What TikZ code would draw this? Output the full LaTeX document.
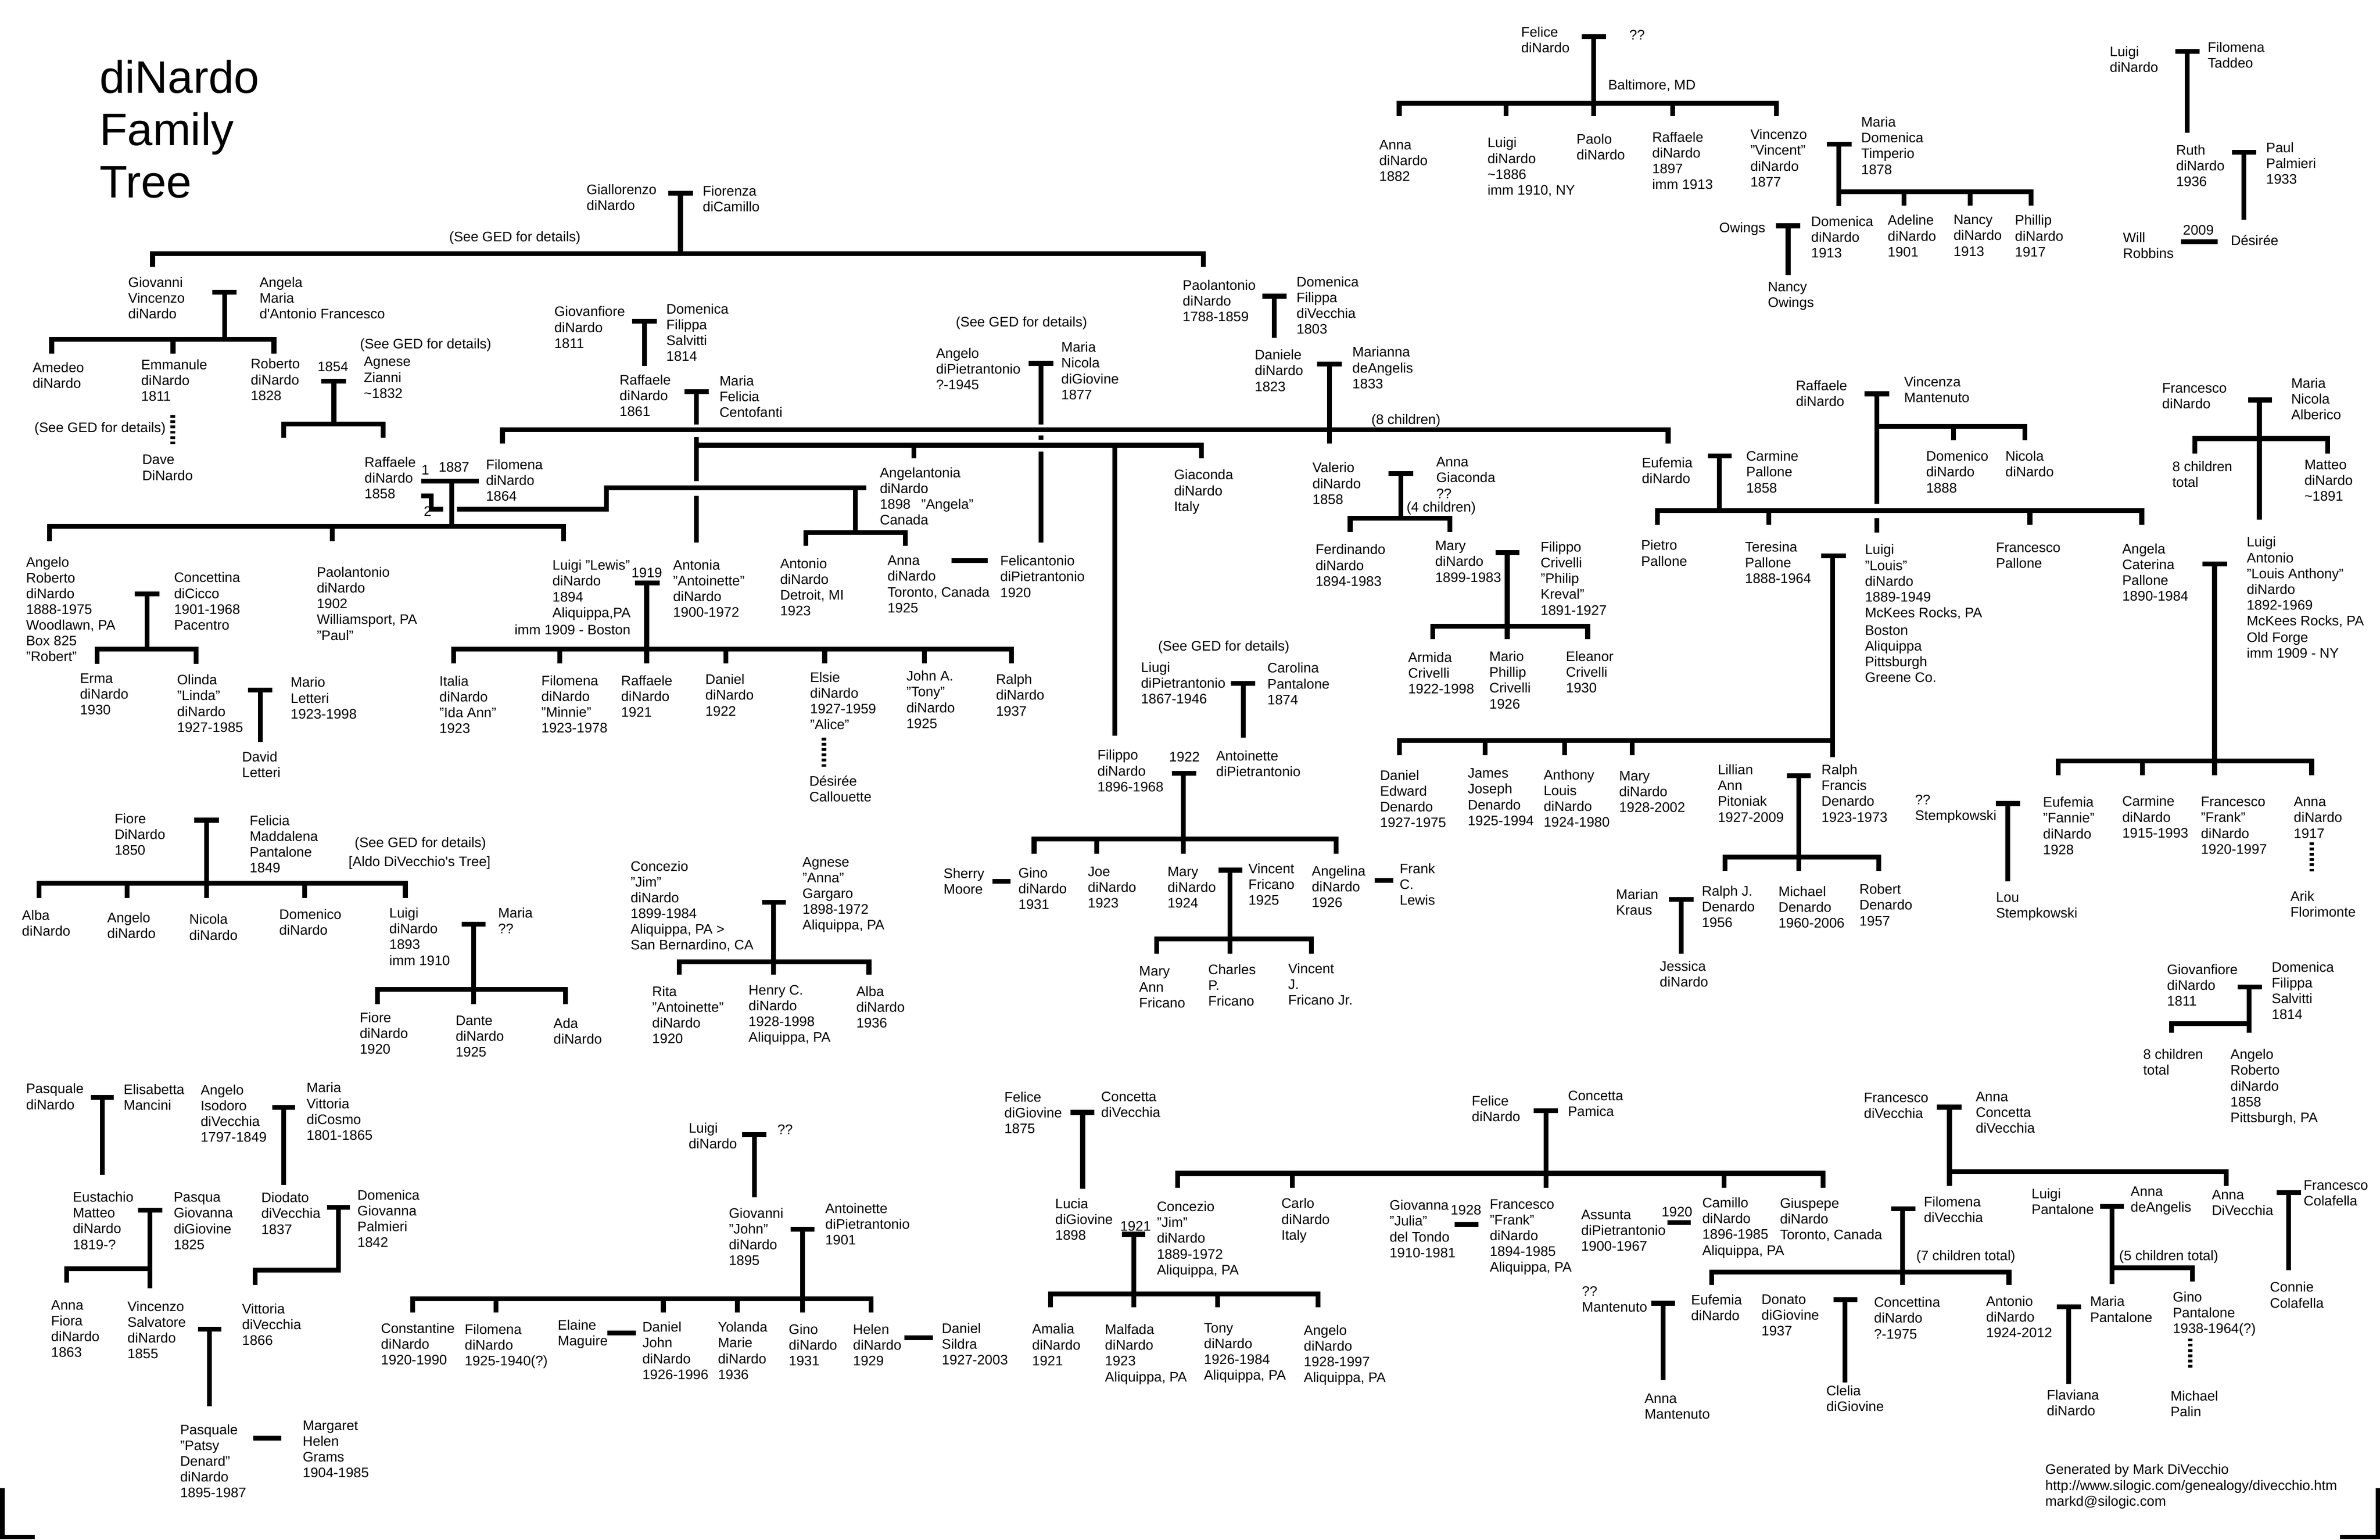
\documentclass[tikz,border=0pt]{standalone}
\usepackage{fontspec}
\setmainfont{Liberation Sans}
\begin{document}
\begin{tikzpicture}[x=1pt,y=-1pt,
		every node/.append style={anchor=north west,inner sep=0pt,align=left,font=\fontsize{9.1}{10.4}\selectfont},
		title/.style={font=\fontsize{30}{34.5}\selectfont},
		kin/.style={line width=3.2pt},
		descent/.style={line width=3pt,dash pattern=on 1.8pt off 1.7pt}
		]
	\useasboundingbox (0,0) rectangle (1568,1014.5);
	\node[title] (title) at (65.5,39.3) {diNardo\\Family\\Tree};

	\node (seeged1) at (295.8,152.3) {(See GED for details)};
	\node (giallorenzo) at (386.3,121.2) {Giallorenzo\\diNardo};
	\node (fiorenza) at (462.8,122.3) {Fiorenza\\diCamillo};
	\draw[kin] (440.3,127.3) -- (456.5,127.3) (448.3,127.3) -- (448.3,167.2);
	\draw[kin] (100.5,175.8) -- (100.5,167.2) -- (792.8,167.2) -- (792.8,175.8);

	\node (giovanni) at (84.3,182.5) {Giovanni\\Vincenzo\\diNardo};
	\node (angela) at (170.8,182.5) {Angela\\Maria\\d\textquotesingle Antonio Francesco};
	\draw[kin] (140,192.6) -- (156,192.6) (148,192.6) -- (148,223.5);
	\draw[kin] (34,233) -- (34,223.5) -- (180.5,223.5) -- (180.5,233) (114,223.5) -- (114,233);
	\node (amedeo) at (21.3,238.6) {Amedeo\\diNardo};
	\node (emmanule) at (92.8,236.6) {Emmanule\\diNardo\\1811};
	\node (roberto) at (165,236.2) {Roberto\\diNardo\\1828};
	\node (y1854) at (209,238.2) {1854};
	\node (seeged2) at (237,223) {(See GED for details)};
	\node (agnese) at (239.5,235) {Agnese\\Zianni\\\textasciitilde1832};
	\node (seeged3) at (22.5,278) {(See GED for details)};
	\draw[descent] (113.8,273.5) -- (113.8,292.5);
	\node (dave) at (93.5,299.6) {Dave\\DiNardo};
	\draw[kin] (211.8,251.3) -- (228,251.3) (220,251.3) -- (220,279.5);
	\draw[kin] (187,288.6) -- (187,279.5) -- (252.5,279.5) -- (252.5,288.6);

	\node (raffaele58) at (240,300.9) {Raffaele\\diNardo\\1858};
	\node (m1) at (277.5,306.5) {1};
	\node (y1887) at (288.8,304.4) {1887};
	\node (filomena64) at (320,302.6) {Filomena\\diNardo\\1864};
	\node (m2) at (279,333.5) {2};
	\draw[kin] (277.5,317) -- (315.5,317) (297.5,317) -- (297.5,346.8);
	\draw[kin] (277.5,326.8) -- (284,326.8) -- (284,335.5) -- (292,335.5);
	\draw[kin] (301,335.5) -- (399.5,335.5) -- (399.5,321.4) -- (570.8,321.4) (563.5,321.4) -- (563.5,351);
	\draw[kin] (530.8,359.8) -- (530.8,351) -- (596.5,351) -- (596.5,359.8);
	\draw[kin] (32.5,356.5) -- (32.5,346.8) -- (371.3,346.8) -- (371.3,356.5) (218.8,346.8) -- (218.8,356.5);

	\node (giovanfiore) at (365,201.7) {Giovanfiore\\diNardo\\1811};
	\node (domenicaf) at (438.8,200) {Domenica\\Filippa\\Salvitti\\1814};
	\draw[kin] (416.5,211.6) -- (432.8,211.6) (424.5,211.6) -- (424.5,241.2);
	\node (raffaele61) at (408,246.8) {Raffaele\\diNardo\\1861};
	\node (mariaf) at (473.8,247.4) {Maria\\Felicia\\Centofanti};
	\draw[kin] (450.8,258.2) -- (467,258.2) (458.8,258.2) -- (458.8,279.8);
	\draw[kin] (458.8,288) -- (458.8,317) (458.8,326.8) -- (458.8,357.6);
	\draw[kin] (458.8,293.4) -- (791.5,293.4) -- (791.5,302) (602,293.4) -- (602,302) (734.5,293.4) -- (734.5,484.9);

	\node (seeged4) at (629.5,208.6) {(See GED for details)};
	\node (angelop) at (616.5,229.1) {Angelo\\diPietrantonio\\?-1945};
	\node (marian) at (699,225.2) {Maria\\Nicola\\diGiovine\\1877};
	\draw[kin] (677.8,239.4) -- (694,239.4) (685.8,239.4) -- (685.8,279.8);
	\draw[kin] (685.8,287) -- (685.8,289.7) (685.8,297.7) -- (685.8,357.6);

	\node (paolantonio) at (779,184.2) {Paolantonio\\diNardo\\1788-1859};
	\node (domenicav) at (854,182) {Domenica\\Filippa\\diVecchia\\1803};
	\draw[kin] (831.5,195.2) -- (847.8,195.2) (839.5,195.2) -- (839.5,222.8);
	\node (daniele) at (826.5,230.2) {Daniele\\diNardo\\1823};
	\node (marianna) at (890.8,228.4) {Marianna\\deAngelis\\1833};
	\node (eight) at (903.3,272.7) {(8 children)};
	\draw[kin] (867.8,240) -- (884,240) (875.8,240) -- (875.8,292.3);
	\draw[kin] (331,292.3) -- (331,283.2) -- (1099,283.2) -- (1099,292.3);

	\node (felice) at (1002,17.5) {Felice\\diNardo};
	\node (qq1) at (1073.3,19.6) {??};
	\node (baltimore) at (1059.3,52.2) {Baltimore, MD};
	\draw[kin] (1042,24.2) -- (1058,24.2) (1049.8,24.2) -- (1049.8,76.6);
	\draw[kin] (921.8,76.6) -- (921.8,68) -- (1170.3,68) -- (1170.3,76.6);
	\foreach \x in {992.3,1102} \draw[kin] (\x,68) -- (\x,76.6);
	\node (annad) at (908.5,92.1) {Anna\\diNardo\\1882};
	\node (luigi86) at (979.8,90.4) {Luigi\\diNardo\\\textasciitilde1886\\imm 1910, NY};
	\node (paolo) at (1038.5,88) {Paolo\\diNardo};
	\node (raffaele97) at (1088.3,86.7) {Raffaele\\diNardo\\1897\\imm 1913};
	\node (vincenzo) at (1153,85) {Vincenzo\\"Vincent"\\diNardo\\1877};
	\node (mariad) at (1226,76.8) {Maria\\Domenica\\Timperio\\1878};
	\draw[kin] (1203.5,95) -- (1219.8,95) (1211.5,95) -- (1211.5,135.9);
	\draw[kin] (1211.5,126.5) -- (1338,126.5) -- (1338,135.5);
	\foreach \x in {1254.3,1298} \draw[kin] (\x,126.5) -- (\x,135.5);
	\node (domenica13) at (1193,142.2) {Domenica\\diNardo\\1913};
	\node (adeline) at (1243.5,141.5) {Adeline\\diNardo\\1901};
	\node (nancy) at (1286.8,141.5) {Nancy\\diNardo\\1913};
	\node (phillip) at (1327.3,141.5) {Phillip\\diNardo\\1917};
	\node (owings) at (1132.5,146.5) {Owings};
	\draw[kin] (1170,148.8) -- (1186,148.8) (1178,148.8) -- (1178,181.2);
	\node (nancyo) at (1164.5,185.7) {Nancy\\Owings};

	\node (luigit) at (1389.8,30.4) {Luigi\\diNardo};
	\node (filomenat) at (1454.3,27.4) {Filomena\\Taddeo};
	\draw[kin] (1433,33.9) -- (1449,33.9) (1441,33.9) -- (1441,87.4);
	\node (ruth) at (1433.5,95.3) {Ruth\\diNardo\\1936};
	\node (paul) at (1492.8,93.6) {Paul\\Palmieri\\1933};
	\draw[kin] (1470.3,100.3) -- (1486.3,100.3) (1478.3,100.3) -- (1478.3,145);
	\node (will) at (1398.5,152.9) {Will\\Robbins};
	\node (y2009) at (1438,148.2) {2009};
	\node (desiree) at (1469.5,154.7) {Désirée};
	\draw[kin] (1437,159.2) -- (1461,159.2);

	\node (raffaelev) at (1183,250.4) {Raffaele\\diNardo};
	\node (vincenza) at (1254.3,248.1) {Vincenza\\Mantenuto};
	\draw[kin] (1228.5,259.5) -- (1244.8,259.5) (1236.5,259.5) -- (1236.5,332) (1236.5,341.4) -- (1236.5,351);
	\draw[kin] (1236.5,281) -- (1334,281) -- (1334,290.1) (1287,281) -- (1287,290.1);
	\node (domenico88) at (1268.8,297) {Domenico\\diNardo\\1888};
	\node (nicola) at (1321,297) {Nicola\\diNardo};

	\node (francescod) at (1424.3,252.4) {Francesco\\diNardo};
	\node (mariaa) at (1509.3,248.9) {Maria\\Nicola\\Alberico};
	\draw[kin] (1481,263.6) -- (1496.8,263.6) (1488.5,263.6) -- (1488.5,342.5);
	\draw[kin] (1446,298.7) -- (1446,289) -- (1533.5,289) -- (1533.5,298.7);
	\node (eighta) at (1431,303.9) {8 children\\total};
	\node (matteo) at (1518,302.8) {Matteo\\diNardo\\\textasciitilde1891};

	\node (angelor) at (17,366.7) {Angelo\\Roberto\\diNardo\\1888-1975\\Woodlawn, PA\\Box 825\\"Robert"};
	\node (concettina) at (114.5,377) {Concettina\\diCicco\\1901-1968\\Pacentro};
	\draw[kin] (88.8,391.3) -- (105,391.3) (97,391.3) -- (97,427.7);
	\draw[kin] (64,437.4) -- (64,427.7) -- (129.3,427.7) -- (129.3,437.4);
	\node (erma) at (52.5,443.7) {Erma\\diNardo\\1930};
	\node (olinda) at (116.5,444.4) {Olinda\\"Linda"\\diNardo\\1927-1985};
	\node (mario) at (191.3,446) {Mario\\Letteri\\1923-1998};
	\draw[kin] (163.5,454.7) -- (179.5,454.7) (171.5,454.7) -- (171.5,488.8);
	\node (david) at (159.3,495) {David\\Letteri};
	\node (paolantonio02) at (208.5,373.4) {Paolantonio\\diNardo\\1902\\Williamsport, PA\\"Paul"};

	\node (luigil) at (363.8,368.8) {Luigi "Lewis"\\diNardo\\1894\\Aliquippa,PA};
	\node (luigilimm) at (338.8,411.5) {imm 1909 - Boston};
	\node (y1919) at (415.8,374) {1919};
	\node (antonia) at (443.3,368.6) {Antonia\\"Antoinette"\\diNardo\\1900-1972};
	\draw[kin] (418.3,384.1) -- (434.5,384.1) (426,384.1) -- (426,437);
	\draw[kin] (298.8,437) -- (298.8,427.7) -- (666.5,427.7) -- (666.5,437);
	\foreach \x in {368.8,478.3,543.3,609} \draw[kin] (\x,427.7) -- (\x,437);
	\node (italia) at (289.3,445.2) {Italia\\diNardo\\"Ida Ann"\\1923};
	\node (filomenam) at (356.5,444.8) {Filomena\\diNardo\\"Minnie"\\1923-1978};
	\node (raffaele21) at (409,444.8) {Raffaele\\diNardo\\1921};
	\node (daniel22) at (464.5,444.1) {Daniel\\diNardo\\1922};
	\node (elsie) at (533.5,442.6) {Elsie\\diNardo\\1927-1959\\"Alice"};
	\draw[descent] (542.8,486) -- (542.8,505.4);
	\node (desireec) at (533,511) {Désirée\\Callouette};
	\node (johna) at (597,441.9) {John A.\\"Tony"\\diNardo\\1925};
	\node (ralph37) at (656,444.1) {Ralph\\diNardo\\1937};

	\node (angelantonia) at (579.5,307.8) {Angelantonia\\diNardo\\1898\hspace{7pt}"Angela"\\Canada};
	\node (antoniod) at (513.8,367.7) {Antonio\\diNardo\\Detroit, MI\\1923};
	\node (annat) at (584.5,366) {Anna\\diNardo\\Toronto, Canada\\1925};
	\draw[kin] (627,369.5) -- (650.8,369.5);
	\node (felicantonio) at (658.8,366) {Felicantonio\\diPietrantonio\\1920};
	\node (giaconda) at (773.3,309.3) {Giaconda\\diNardo\\Italy};

	\node (valerio) at (864.5,304.6) {Valerio\\diNardo\\1858};
	\node (annag) at (946,301.1) {Anna\\Giaconda\\??};
	\node (four) at (926.5,330.5) {(4 children)};
	\draw[kin] (914.8,312.1) -- (931,312.1) (922.8,312.1) -- (922.8,341.4);
	\draw[kin] (889.5,350.7) -- (889.5,341.4) -- (955.3,341.4) -- (955.3,350.7);
	\node (ferdinando) at (866.5,358.5) {Ferdinando\\diNardo\\1894-1983};
	\node (mary99) at (945.3,356.3) {Mary\\diNardo\\1899-1983};
	\node (filippoc) at (1014.8,356.8) {Filippo\\Crivelli\\"Philip\\Kreval"\\1891-1927};
	\draw[kin] (985.3,364.1) -- (1001,364.1) (993,364.1) -- (993,421.2);
	\draw[kin] (944,421.2) -- (944,412.6) -- (1046,412.6) -- (1046,421.2);
	\node (armida) at (927.5,429.6) {Armida\\Crivelli\\1922-1998};
	\node (mariop) at (981,429) {Mario\\Phillip\\Crivelli\\1926};
	\node (eleanor) at (1031.5,429) {Eleanor\\Crivelli\\1930};

	\node (eufemia) at (1081.5,301.3) {Eufemia\\diNardo};
	\node (carmine) at (1150.3,297) {Carmine\\Pallone\\1858};
	\draw[kin] (1125.3,300.3) -- (1141,300.3) (1132.8,300.3) -- (1132.8,336.5);
	\draw[kin] (1092,345.8) -- (1092,336.5) -- (1411,336.5) -- (1411,345.8);
	\foreach \x in {1165.3,1337.3} \draw[kin] (\x,336.5) -- (\x,345.8);
	\node (pietro) at (1081,355.7) {Pietro\\Pallone};
	\node (teresina) at (1149.5,356.8) {Teresina\\Pallone\\1888-1964};
	\node (luigilouis) at (1228.5,358.5) {Luigi\\"Louis"\\diNardo\\1889-1949\\McKees Rocks, PA};
	\node (luigilouis2) at (1228.5,412) {Boston\\Aliquippa\\Pittsburgh\\Greene Co.};
	\node (francescop) at (1314.8,357.4) {Francesco\\Pallone};
	\node (angelac) at (1398,358) {Angela\\Caterina\\Pallone\\1890-1984};
	\node (luigia) at (1480,353.5) {Luigi\\Antonio\\"Louis Anthony"\\diNardo\\1892-1969\\McKees Rocks, PA};
	\node (luigia2) at (1480,416.3) {Old Forge\\imm 1909 - NY};
	\draw[kin] (1199.8,366.2) -- (1216,366.2) (1207.3,366.2) -- (1207.3,498.9);
	\draw[kin] (922,497.8) -- (922,488) -- (1207.3,488);
	\foreach \x in {978.3,1030.8,1075.3} \draw[kin] (\x,488) -- (\x,497.8);
	\draw[kin] (1451,371.6) -- (1467.3,371.6) (1459,371.6) -- (1459,510.8);
	\draw[kin] (1356,510.8) -- (1356,501.5) -- (1523,501.5) -- (1523,510.8) (1411.5,501.5) -- (1411.5,510.8);

	\node (seeged5) at (762.8,422.1) {(See GED for details)};
	\node (liugi) at (751.5,436.1) {Liugi\\diPietrantonio\\1867-1946};
	\node (carolina) at (834.8,436.6) {Carolina\\Pantalone\\1874};
	\draw[kin] (811,450.4) -- (827,450.4) (819,450.4) -- (819,486);
	\node (antoinettep) at (801,494.4) {Antoinette\\diPietrantonio};
	\node (y1922) at (770,495.5) {1922};
	\node (filippod) at (722.8,494) {Filippo\\diNardo\\1896-1968};
	\draw[kin] (772,509.7) -- (788,509.7) (779.5,509.7) -- (779.5,562.5);
	\draw[kin] (681.3,562.5) -- (681.3,552.8) -- (880.3,552.8) -- (880.3,562.5) (722.5,552.8) -- (722.5,562.5);
	\node (sherry) at (621.5,572) {Sherry\\Moore};
	\draw[kin] (654,580.9) -- (665.8,580.9);
	\node (gino31) at (670.8,571.5) {Gino\\diNardo\\1931};
	\node (joe) at (716.5,571) {Joe\\diNardo\\1923};
	\node (mary24) at (769,571) {Mary\\diNardo\\1924};
	\node (vincent) at (822.3,568.8) {Vincent\\Fricano\\1925};
	\draw[kin] (802.8,573.4) -- (818.5,573.4) (810.3,573.4) -- (810.3,628.3);
	\node (angelina) at (864,570.3) {Angelina\\diNardo\\1926};
	\draw[kin] (905.8,580.2) -- (917.8,580.2);
	\node (frank) at (922,568.8) {Frank\\C.\\Lewis};
	\draw[kin] (762,628.3) -- (762,618.6) -- (864,618.6) -- (864,628.3);
	\node (maryann) at (750.3,636.7) {Mary\\Ann\\Fricano};
	\node (charles) at (795.8,635.2) {Charles\\P.\\Fricano};
	\node (vincentj) at (848.5,634.6) {Vincent\\J.\\Fricano Jr.};

	\node (concezio99) at (415.3,567.1) {Concezio\\"Jim"\\diNardo\\1899-1984\\Aliquippa, PA >\\San Bernardino, CA};
	\node (agneseg) at (528.5,564.7) {Agnese\\"Anna"\\Gargaro\\1898-1972\\Aliquippa, PA};
	\draw[kin] (502,594.5) -- (517.8,594.5) (509.5,594.5) -- (509.5,642.3);
	\draw[kin] (447.5,642.3) -- (447.5,633.7) -- (572.5,633.7) -- (572.5,642.3);
	\node (rita) at (429.5,649.7) {Rita\\"Antoinette"\\diNardo\\1920};
	\node (henry) at (493,649) {Henry C.\\diNardo\\1928-1998\\Aliquippa, PA};
	\node (alba36) at (564,649.7) {Alba\\diNardo\\1936};

	\node (daniel75) at (909,507.3) {Daniel\\Edward\\Denardo\\1927-1975};
	\node (james) at (966.8,506.2) {James\\Joseph\\Denardo\\1925-1994};
	\node (anthony) at (1016.8,506.9) {Anthony\\Louis\\diNardo\\1924-1980};
	\node (mary28) at (1066.5,508) {Mary\\diNardo\\1928-2002};
	\node (lillian) at (1131.5,503.6) {Lillian\\Ann\\Pitoniak\\1927-2009};
	\node (ralphf) at (1199.8,503.6) {Ralph\\Francis\\Denardo\\1923-1973};
	\draw[kin] (1177.3,511.1) -- (1193,511.1) (1185,511.1) -- (1185,574);
	\draw[kin] (1136.5,574) -- (1136.5,564.7) -- (1237.8,564.7) -- (1237.8,574);
	\node (mariank) at (1064.5,585.6) {Marian\\Kraus};
	\node (ralphj) at (1121,583.5) {Ralph J.\\Denardo\\1956};
	\draw[kin] (1099.5,592.7) -- (1115.8,592.7) (1107.5,592.7) -- (1107.5,628.3);
	\node (jessica) at (1093.3,633.1) {Jessica\\diNardo};
	\node (michaeld) at (1171.5,583.9) {Michael\\Denardo\\1960-2006};
	\node (robertd) at (1224.8,582.4) {Robert\\Denardo\\1957};
	\node (stemp) at (1261.5,523.5) {??\\Stempkowski};
	\draw[kin] (1314.8,529.5) -- (1331,529.5) (1322.8,529.5) -- (1322.8,580.9);
	\node (lou) at (1314.8,588) {Lou\\Stempkowski};
	\node (eufemiaf) at (1345.8,525) {Eufemia\\"Fannie"\\diNardo\\1928};
	\node (carmined) at (1398,524.4) {Carmine\\diNardo\\1915-1993};
	\node (francescof) at (1449.8,525) {Francesco\\"Frank"\\diNardo\\1920-1997};
	\node (anna17) at (1511,525) {Anna\\diNardo\\1917};
	\draw[descent] (1523,555) -- (1523,574.3);
	\node (arik) at (1508.8,587) {Arik\\Florimonte};

	\node (giovanfiore2) at (1427.5,635.2) {Giovanfiore\\diNardo\\1811};
	\node (domenicaf2) at (1496.5,633.7) {Domenica\\Filippa\\Salvitti\\1814};
	\draw[kin] (1474.3,650.3) -- (1490.3,650.3) (1481.8,650.3) -- (1481.8,680.6);
	\draw[kin] (1430.5,680.6) -- (1430.5,674.5) -- (1481.8,674.5);
	\node (eightb) at (1411.8,691.2) {8 children\\total};
	\node (angelor58) at (1469.3,691.2) {Angelo\\Roberto\\diNardo\\1858\\Pittsburgh, PA};

	\node (fiore50) at (75.3,535.8) {Fiore\\DiNardo\\1850};
	\node (felicia) at (164.3,537.1) {Felicia\\Maddalena\\Pantalone\\1849};
	\node (seeged6) at (233.5,551.5) {(See GED for details)};
	\node (aldo) at (229.5,564) {[Aldo DiVecchio\textquotesingle s Tree]};
	\draw[kin] (128,540.5) -- (144.3,540.5) (136,540.5) -- (136,591.6);
	\draw[kin] (25.8,591.6) -- (25.8,582) -- (267,582) -- (267,591.6);
	\foreach \x in {83.8,200.8} \draw[kin] (\x,582) -- (\x,591.6);
	\node (alba) at (14.3,599.6) {Alba\\diNardo};
	\node (angelon) at (70.5,601.2) {Angelo\\diNardo};
	\node (nicolan) at (124.5,602.2) {Nicola\\diNardo};
	\node (domenicon) at (183.8,599) {Domenico\\diNardo};
	\node (luigi93) at (256.3,598) {Luigi\\diNardo\\1893\\imm 1910};
	\node (mariaq) at (328,598) {Maria\\??};
	\draw[kin] (304.3,609.1) -- (320,609.1) (312,609.1) -- (312,661.7);
	\draw[kin] (248.8,661.7) -- (248.8,652) -- (372.5,652) -- (372.5,661.7);
	\node (fiore20) at (236.8,667) {Fiore\\diNardo\\1920};
	\node (dante) at (300,669.1) {Dante\\diNardo\\1925};
	\node (ada) at (364.5,670.8) {Ada\\diNardo};

	\node (pasquale) at (17,713.8) {Pasquale\\diNardo};
	\node (elisabetta) at (81.3,714.3) {Elisabetta\\Mancini};
	\draw[kin] (60,723.1) -- (75,723.1) (67.5,723.1) -- (67.5,774.4);
	\node (angeloi) at (132,714.5) {Angelo\\Isodoro\\diVecchia\\1797-1849};
	\node (mariav) at (201.8,713.2) {Maria\\Vittoria\\diCosmo\\1801-1865};
	\draw[kin] (179.3,729.8) -- (194.5,729.8) (186.8,729.8) -- (186.8,780.9);
	\node (eustachio) at (47.8,785.2) {Eustachio\\Matteo\\diNardo\\1819-?};
	\node (pasqua) at (114.3,785.6) {Pasqua\\Giovanna\\diGiovine\\1825};
	\draw[kin] (91,797.5) -- (106.8,797.5) (98.8,797.5) -- (98.8,848.9);
	\draw[kin] (43.8,845.2) -- (43.8,836) -- (98.8,836);
	\node (diodato) at (172,785.6) {Diodato\\diVecchia\\1837};
	\node (domenicag) at (235.3,783.9) {Domenica\\Giovanna\\Palmieri\\1842};
	\draw[kin] (215.5,795.6) -- (230.5,795.6) (223,795.6) -- (223,837) -- (168,837) -- (168,846.7);
	\node (annaf) at (33.5,856.6) {Anna\\Fiora\\diNardo\\1863};
	\node (vincenzos) at (83.8,857.3) {Vincenzo\\Salvatore\\diNardo\\1855};
	\node (vittoria) at (159.3,858.8) {Vittoria\\diVecchia\\1866};
	\draw[kin] (130.5,875.9) -- (145.8,875.9) (138,875.9) -- (138,926.8);
	\node (patsy) at (118.5,938.4) {Pasquale\\"Patsy\\Denard"\\diNardo\\1895-1987};
	\draw[kin] (166.8,947.6) -- (185.3,947.6);
	\node (margaret) at (199.3,936) {Margaret\\Helen\\Grams\\1904-1985};

	\node (luigiq) at (453.5,739.7) {Luigi\\diNardo};
	\node (qq2) at (512,740.8) {??};
	\draw[kin] (489,747.5) -- (505,747.5) (497,747.5) -- (497,789.1);
	\node (giovannij) at (480,795.8) {Giovanni\\"John"\\diNardo\\1895};
	\node (antoinette01) at (543.5,792.6) {Antoinette\\diPietrantonio\\1901};
	\draw[kin] (520.8,810) -- (536.5,810) (528.8,810) -- (528.8,865);
	\draw[kin] (272,865) -- (272,855.8) -- (573.8,855.8) -- (573.8,865);
	\foreach \x in {326.8,437,485.8} \draw[kin] (\x,855.8) -- (\x,865);
	\node (constantine) at (250.8,871.7) {Constantine\\diNardo\\1920-1990};
	\node (filomena25) at (306,872.4) {Filomena\\diNardo\\1925-1940(?)};
	\node (elaine) at (367.3,869.6) {Elaine\\Maguire};
	\draw[kin] (400.3,878.4) -- (419,878.4);
	\node (danielj) at (423,870.9) {Daniel\\John\\diNardo\\1926-1996};
	\node (yolanda) at (472.8,870.9) {Yolanda\\Marie\\diNardo\\1936};
	\node (gino31b) at (519.5,872.4) {Gino\\diNardo\\1931};
	\node (helen) at (561.8,872.4) {Helen\\diNardo\\1929};
	\draw[kin] (595.8,881.5) -- (614.5,881.5);
	\node (daniels) at (620.3,871.7) {Daniel\\Sildra\\1927-2003};

	\node (feliceg) at (661.5,719.2) {Felice\\diGiovine\\1875};
	\node (concettav) at (725.3,719.2) {Concetta\\diVecchia};
	\draw[kin] (705.3,733) -- (721,733) (713.3,733) -- (713.3,783.5);
	\node (lucia) at (695,789.5) {Lucia\\diGiovine\\1898};
	\node (y1921) at (737.8,804.5) {1921};
	\node (concezio89) at (762,791.5) {Concezio\\"Jim"\\diNardo\\1889-1972\\Aliquippa, PA};
	\draw[kin] (739,813.3) -- (754.5,813.3) (747,813.3) -- (747,861.4);
	\draw[kin] (692,861.4) -- (692,852.7) -- (868.3,852.7) -- (868.3,861.4) (802.3,852.7) -- (802.3,861.4);
	\node (amalia) at (679.8,872.2) {Amalia\\diNardo\\1921};
	\node (malfada) at (727.8,872.4) {Malfada\\diNardo\\1923\\Aliquippa, PA};
	\node (tony) at (793,871.7) {Tony\\diNardo\\1926-1984\\Aliquippa, PA};
	\node (angelo28) at (858.8,873) {Angelo\\diNardo\\1928-1997\\Aliquippa, PA};

	\node (felicep) at (969.5,721.9) {Felice\\diNardo};
	\node (concettap) at (1032.8,718.5) {Concetta\\Pamica};
	\draw[kin] (1010.5,732) -- (1026.5,732) (1018.5,732) -- (1018.5,782.6);
	\draw[kin] (775.8,782.6) -- (775.8,773.2) -- (1201,773.2) -- (1201,782.6);
	\foreach \x in {851.5,1135.8} \draw[kin] (\x,773.2) -- (\x,782.6);
	\node (carlo) at (844,789.4) {Carlo\\diNardo\\Italy};
	\node (giovanna) at (915.3,790.6) {Giovanna\\"Julia"\\del Tondo\\1910-1981};
	\node (y1928) at (955.5,794) {1928};
	\draw[kin] (958.3,806.8) -- (974,806.8);
	\node (francescofr) at (981.3,790.1) {Francesco\\"Frank"\\diNardo\\1894-1985\\Aliquippa, PA};
	\node (assunta) at (1041.5,797) {Assunta\\diPietrantonio\\1900-1967};
	\node (y1920) at (1094.5,795.2) {1920};
	\draw[kin] (1098.5,805.7) -- (1114,805.7);
	\node (camillo) at (1121.3,789) {Camillo\\diNardo\\1896-1985\\Aliquippa, PA};
	\node (giuspepe) at (1172.5,789.3) {Giuspepe\\diNardo\\Toronto, Canada};
	\node (mantenuto) at (1042,847.5) {??\\Mantenuto};
	\draw[kin] (1087.8,858.8) -- (1103.5,858.8) (1095.8,858.8) -- (1095.8,909.5);
	\node (annam) at (1083.3,918.1) {Anna\\Mantenuto};

	\node (francescov) at (1227.8,720) {Francesco\\diVecchia};
	\node (annac) at (1301.5,719.2) {Anna\\Concetta\\diVecchia};
	\draw[kin] (1276,729.6) -- (1292.3,729.6) (1284.3,729.6) -- (1284.3,781.4);
	\draw[kin] (1284.3,772) -- (1466.8,772) -- (1466.8,781.4);
	\node (filomenav) at (1267.3,788.2) {Filomena\\diVecchia};
	\node (seven) at (1262.3,823.7) {(7 children total)};
	\draw[kin] (1246,796.6) -- (1261.8,796.6) (1253.5,796.6) -- (1253.5,846.7);
	\draw[kin] (1127.8,846.7) -- (1127.8,838.3) -- (1323.5,838.3) -- (1323.5,846.7);
	\node (eufemiad) at (1114,853) {Eufemia\\diNardo};
	\node (donato) at (1160.3,853) {Donato\\diGiovine\\1937};
	\draw[kin] (1208,856.5) -- (1223.5,856.5) (1215.5,856.5) -- (1215.5,911);
	\node (concettina75) at (1234.5,854.6) {Concettina\\diNardo\\?-1975};
	\node (clelia) at (1203,912.7) {Clelia\\diGiovine};
	\node (antonio24) at (1308.3,853.9) {Antonio\\diNardo\\1924-2012};

	\node (luigipa) at (1338.3,782.9) {Luigi\\Pantalone};
	\node (annada) at (1403.5,781.8) {Anna\\deAngelis};
	\node (five) at (1396,823.7) {(5 children total)};
	\draw[kin] (1383.5,795) -- (1399.3,795) (1391.5,795) -- (1391.5,846.1);
	\draw[kin] (1391.5,835.5) -- (1444.3,835.5) -- (1444.3,844.5);
	\node (annadv) at (1457,784) {Anna\\DiVecchia};
	\node (francescoc) at (1517.5,777.7) {Francesco\\Colafella};
	\draw[kin] (1499.8,785.9) -- (1516,785.9) (1507.8,785.9) -- (1507.8,837);
	\node (connie) at (1495.3,844.6) {Connie\\Colafella};
	\node (mariap) at (1376.8,854) {Maria\\Pantalone};
	\draw[kin] (1355,861.2) -- (1371,861.2) (1362.8,861.2) -- (1362.8,912);
	\node (flaviana) at (1348.3,915.5) {Flaviana\\diNardo};
	\node (ginop) at (1431.3,851) {Gino\\Pantalone\\1938-1964(?)};
	\draw[descent] (1443,882) -- (1443,902);
	\node (michaelp) at (1429.8,916.2) {Michael\\Palin};

	\node (credit) at (1347.3,964.7) {Generated by Mark DiVecchio\\http://www.silogic.com/genealogy/divecchio.htm\\markd@silogic.com};
	\draw[line width=3pt] (1.5,980.5) -- (1.5,1012.8) -- (23,1012.8);
	\draw[line width=3pt] (1541.5,1012.8) -- (1566.5,1012.8) -- (1566.5,980.5);
\end{tikzpicture}
\end{document}
